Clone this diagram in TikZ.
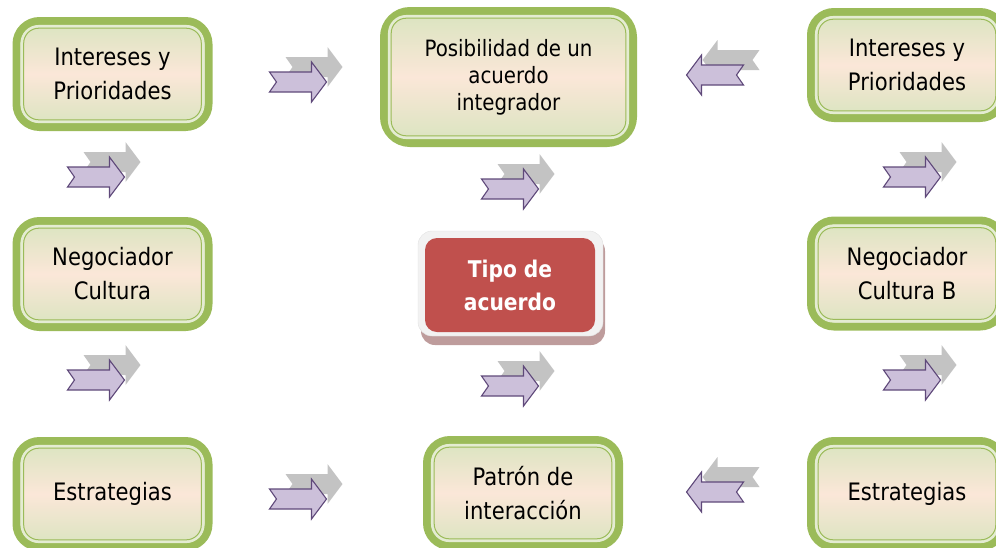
\documentclass[tikz,border=0pt]{standalone}
\usepackage{fontspec}
\setmainfont{DejaVu Sans}[FakeStretch=0.88]
\usepackage{tikz}
\usetikzlibrary{calc, backgrounds, positioning}
\definecolor{verde}{HTML}{9BBB59}
\definecolor{palido}{HTML}{E4ECD2}
\definecolor{hoja}{HTML}{D9E4BF}
\definecolor{durazno}{HTML}{FBE7D8}
\definecolor{rojo}{HTML}{C0504D}
\definecolor{lila}{HTML}{CCC0DA}
\definecolor{lilaborde}{HTML}{5F497A}
\definecolor{gris}{HTML}{C3C3C3}
\definecolor{marco}{HTML}{F2F2F2}
\definecolor{sombrarosa}{HTML}{BE9C9C}
\tikzset{
    cajanode/.style = {draw=verde, line width=8pt, rectangle, rounded corners=23pt, outer sep=0pt,
      top color=hoja, bottom color=hoja, middle color=durazno, minimum width=192pt,
      minimum height=106pt, node distance=0em, align=center, font=\fontsize{24}{34}\selectfont},
    grandenode/.style = {cajanode, rounded corners=26pt, minimum width=249pt, minimum height=132pt,
      font=\fontsize{22.5}{27}\selectfont},
    tiponode/.style = {rectangle, fill=rojo, text=white, rounded corners=12pt, outer sep=0pt,
      minimum width=170pt, minimum height=94pt, node distance=0em, align=center,
      font=\bfseries\fontsize{23}{33}\selectfont},
    forma/.style = {insert path={(-28.5,10) -- (13.5,10) -- (13.5,20) -- (28.5,0) -- (13.5,-20)
      -- (13.5,-10) -- (-28.5,-10) -- (-21.5,0) -- cycle}},
    sombra/.style = {fill=gris, draw=none},
    morado/.style = {fill=lila, draw=lilaborde, line width=1.1pt},
    flechader/.pic = {
      \path[sombra, shift={(16,15)}, forma];
      \path[morado, forma];
    },
    flechaizq/.pic = {
      \path[sombra, shift={(16,15)}, xscale=-1, forma];
      \path[morado, xscale=-1, forma];
    }
}

\begin{document}
\begin{tikzpicture}[x=1pt, y=1pt]
    \useasboundingbox (0,0) rectangle (996,-547);
    \node[tiponode, name=T] at (510,-285) {Tipo de\\acuerdo};
    \node[cajanode, name=I1, right of = T, xshift=-397.5pt, yshift=211pt] {Intereses y\\Prioridades};
    \node[cajanode, name=N1, right of = T, xshift=-397.5pt, yshift=11pt] {Negociador\\Cultura};
    \node[cajanode, name=E1, right of = T, xshift=-397.5pt, yshift=-209pt] {Estrategias};
    \node[grandenode, name=P, right of = T, xshift=-1.5pt, yshift=208pt] {Posibilidad de un\\acuerdo\\integrador};
    \node[cajanode, name=X, right of = T, xshift=13pt, yshift=-208pt] {Patrón de\\interacción};
    \node[cajanode, name=I2, right of = T, xshift=397pt, yshift=220pt] {Intereses y\\Prioridades};
    \node[cajanode, name=N2, right of = T, xshift=397pt, yshift=11.5pt] {Negociador\\Cultura B};
    \node[cajanode, name=E2, right of = T, xshift=397pt, yshift=-209pt] {Estrategias};
    % inner rims of the green boxes
    \foreach \n in {I1, N1, E1, P, X, I2, N2, E2}{
        \draw[palido, line width=2.7pt, rounded corners=17pt] ($(\n.north west)+(5.3,-5.3)$) rectangle ($(\n.south east)+(-5.3,5.3)$);
        \draw[verde, line width=1pt, rounded corners=15pt] ($(\n.north west)+(7.2,-7.2)$) rectangle ($(\n.south east)+(-7.2,7.2)$);
    }
    % frame behind the red box
    \begin{scope}[on background layer]
        \fill[sombrarosa, rounded corners=14pt] ($(T.north west)+(-4,1)$) rectangle ($(T.south east)+(10,-13)$);
        \draw[marco!85!gray, fill=marco, rounded corners=14pt] ($(T.north west)+(-7,7)$) rectangle ($(T.south east)+(8,-4)$);
    \end{scope}
    % arrows
    \pic at (298,-82) {flechader};
    \pic at (96,-177) {flechader};
    \pic at (96,-380) {flechader};
    \pic at (298,-499) {flechader};
    \pic at (510,-189) {flechader};
    \pic at (510,-386) {flechader};
    \pic at (912,-177) {flechader};
    \pic at (912,-380) {flechader};
    \pic at (715,-75) {flechaizq};
    \pic at (715,-492) {flechaizq};
\end{tikzpicture}
\end{document}
